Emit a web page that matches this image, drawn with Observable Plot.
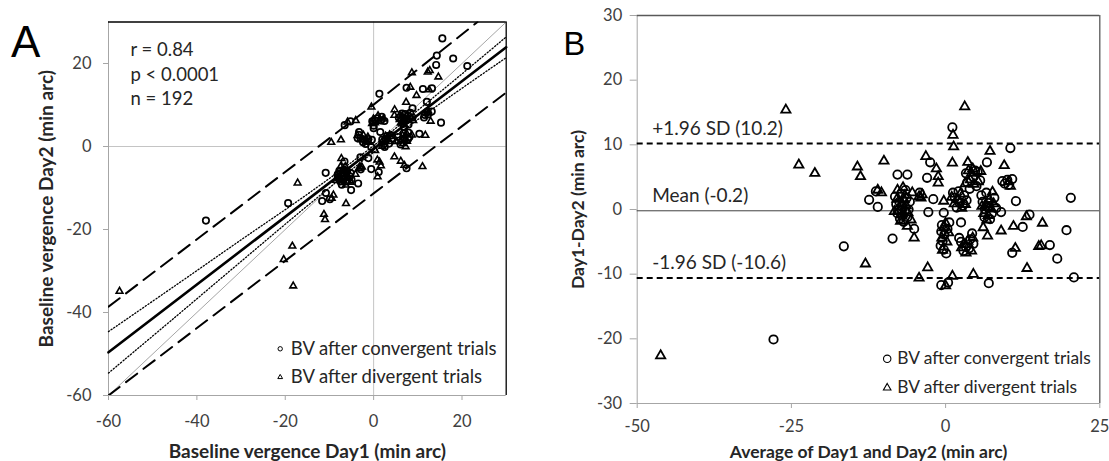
<!DOCTYPE html>
<html>
<head>
<meta charset="utf-8">
<script src="https://cdn.jsdelivr.net/npm/d3@7"></script>
<script src="https://cdn.jsdelivr.net/npm/@observablehq/plot@0.6"></script>
<style>
  body { margin: 0; background: #fff; }
  #fig { position: relative; width: 1109px; height: 461px; overflow: hidden; font-family: Lato, "Open Sans", sans-serif; }
  #fig > svg { position: absolute; top: 0; }
  g[aria-label="x-axis tick"], g[aria-label="y-axis tick"] { stroke: #a6a6a6; }
</style>
</head>
<body>
<div id="fig"></div>
<script>
// Baseline vergence (min arc): per-trial [average of Day1 & Day2, Day1 - Day2]
const convergentPairs = [
  [-27.9,-20.1],[-16.5,-5.7],[-12.4,1.5],[-11.0,0.4],[-11.3,2.8],
  [-7.8,5.4],[-6.2,5.4],[-2.5,7.3],[-3.0,4.9],[-4.2,2.6],[-2.0,1.6],[-2.8,-0.4],
  [-5.1,-3.0],[-8.6,-4.5],
  [1.1,12.7],[10.5,9.5],[6.7,7.3],[9.2,4.4],[10.0,4.6],[10.8,4.7],[10.2,3.8],
  [11.4,1.3],[20.3,1.8],[13.6,-0.8],[12.5,-2.7],[19.6,-3.2],[16.9,-5.5],[18.1,-7.6],
  [10.8,-6.7],[20.8,-10.5],[7.0,-11.4],[-0.7,-11.7],[0.4,-11.3],[2.5,-2.0],[9.0,-0.4],
  [-0.5,-4.9],[-0.3,-6.2],[-0.7,-3.4],[4.3,-3.7],[-0.3,-0.5],
  [-7.5,1.2],[-7.0,0.4],[-6.6,-0.3],[-7.8,-0.6],[-6.3,1.8],[-7.2,2.4],[-8.0,0.8],[-6.0,0.0],
  [-7.4,-1.4],[-6.8,-1.9],[-5.8,1.2],[-8.2,2.0],[-6.5,3.0],[-7.0,-1.0],[-7.7,0.0],[-6.2,-1.2],[-7.1,0.0],
  [6.0,1.2],[6.8,0.4],[7.5,-0.6],[6.3,-1.2],[7.9,1.8],[6.6,2.6],[7.2,-1.5],[8.2,0.2],[5.8,2.2],[7.0,1.0],[6.4,0.0],[9.6,4.0],
  [1.5,1.8],[2.3,1.0],[3.0,2.2],[1.8,0.3],[2.8,0.6],[3.4,1.4],[1.2,2.6],[2.1,2.8],
  [2.5,-5.0],[3.3,-5.8],[4.0,-4.6],[2.9,-6.4],[3.8,-6.0],[4.5,-5.3],[2.2,-4.4],
  [3.5,4.2],[4.5,5.0],[5.0,3.6],[3.9,3.2],[4.8,6.0],[3.3,5.6],[5.6,4.5],[5.2,5.8],
  [-0.6,-2.4],[0.3,-3.0],[-0.2,-3.9],[0.6,-2.0],[0.1,-6.8],[-0.8,-5.6]
];
const divergentPairs = [
  [-46.2,-22.6],[-25.9,15.4],[-23.8,6.9],[-21.2,5.6],[-14.3,6.6],[-13.8,5.1],[-10.0,7.5],
  [-3.2,8.2],[-1.5,6.3],[-1.2,5.1],[-1.2,4.1],[-11.0,3.0],[-10.4,2.6],[-7.8,3.0],[-4.0,1.8],
  [-0.3,1.3],[-6.2,-2.6],[-5.1,-4.4],[-13.0,-8.4],[-2.9,-9.0],[-4.3,-10.6],[0.0,-11.8],[1.1,-10.3],
  [4.5,-10.0],[3.1,15.9],[1.2,11.5],[1.3,9.7],[1.1,7.2],[7.2,9.0],[9.5,6.8],[3.6,7.3],[4.4,6.3],[5.7,5.9],
  [10.5,3.6],[13.1,-1.1],[15.7,-2.1],[11.0,-2.6],[6.1,-2.8],[9.0,-3.3],[6.8,-4.1],[11.3,-6.0],
  [15.1,-5.7],[15.5,-5.6],[13.2,-9.1],[-0.5,-6.3],[-5.4,2.6],[-4.3,2.0],[-3.8,2.3],
  [-7.2,0.9],[-6.7,1.5],[-7.6,-0.2],[-6.4,0.6],[-7.0,-0.7],[-6.9,3.4],[-7.9,1.6],[-6.1,-0.5],[-7.3,-1.8],[-6.6,2.2],[-5.6,-1.6],[-8.3,-0.3],
  [6.5,0.8],[7.1,1.6],[7.4,0.1],[6.2,-0.6],[7.8,0.9],[6.9,-0.9],[5.9,0.5],[7.6,2.7],[6.7,-1.6],[10.2,4.3],[7.0,0.3],
  [2.0,1.5],[2.6,0.2],[1.4,0.9],[3.2,0.8],[2.4,2.4],[1.0,1.9],
  [3.0,-5.4],[3.6,-4.9],[2.6,-5.9],[4.2,-6.4],[3.3,-6.7],[4.4,-4.4],
  [4.0,4.6],[4.6,3.9],[3.7,6.0],[5.3,4.3],[4.2,5.6],[3.2,4.0],
  [-0.3,-2.8],[0.5,-3.6],[0.2,-5.0],[-0.6,-4.4],[0.0,-2.1]
];

// Panel A reference lines, [Day1, Day2]
const identityLine = [[-60,-60],[30,30]];
const regressionLine = [[-60,-49.6],[30,23.9]];
const confidenceUpper = [[-60,-44.6],[-45,-33.6],[-30,-22.5],[-15,-11.5],[0,0.2],[15,13.1],[30,26.4]];
const confidenceLower = [[-60,-54.6],[-45,-41.2],[-30,-27.7],[-15,-14.3],[0,-1.4],[15,10.3],[30,21.4]];
const predictionUpper = [[-60,-38.6],[0,10.1],[23.5,30]];
const predictionLower = [[-60,-60],[0,-11.3],[30,13.0]];
const statLines = ["r = 0.84", "p < 0.0001", "n = 192"];

// Panel B limits of agreement
const meanDiff = -0.2;
const limits = [10.2, -10.6];
const limitLabels = ["+1.96 SD (10.2)", "Mean (-0.2)", "-1.96 SD (-10.6)"];
const limitValues = [10.2, -0.2, -10.6];

const ticksA = [-60, -40, -20, 0, 20];
const ticksBx = [-50, -25, 0, 25];
const ticksBy = [-30, -20, -10, 0, 10, 20, 30];
const legendLabels = ["BV after convergent trials", "BV after divergent trials"];

const fmt = d => String(d);
const toDays = pairs => pairs.map(([m, d]) => ({day1: m + d / 2, day2: m - d / 2}));
const toBA = pairs => pairs.map(([m, d]) => ({avg: m, diff: d}));
const X = d => d[0], Y = d => d[1];
const textColor = "#262626";
const tickColor = "#404040";

const panelA = Plot.plot({
  width: 540, height: 461,
  marginLeft: 108, marginRight: 34.3, marginTop: 21.5, marginBottom: 66,
  style: {fontFamily: "Lato, sans-serif", background: "transparent", overflow: "visible"},
  x: {domain: [-60, 30]},
  y: {domain: [-60, 30]},
  marks: [
    Plot.ruleX([0], {stroke: "#c4c4c4"}),
    Plot.ruleY([0], {stroke: "#c4c4c4"}),
    Plot.ruleX([-60], {stroke: "#a6a6a6"}),
    Plot.ruleY([-60], {stroke: "#a6a6a6"}),
    Plot.axisX({ticks: ticksA, tickFormat: fmt, tickSize: 5, tickPadding: 15, fontSize: 16.5, color: tickColor, label: null}),
    Plot.axisY({ticks: ticksA, tickFormat: fmt, tickSize: 5, tickPadding: 12, fontSize: 16.5, color: tickColor, label: null}),
    Plot.line(identityLine, {x: X, y: Y, stroke: "#a6a6a6", strokeWidth: 1}),
    Plot.dot(toDays(convergentPairs), {x: "day1", y: "day2", r: 3.2, fill: "none", stroke: "#000", strokeWidth: 1.7}),
    Plot.dot(toDays(divergentPairs), {x: "day1", y: "day2", symbol: "triangle2", r: 3.2, fill: "none", stroke: "#000", strokeWidth: 1.6}),
    Plot.line(regressionLine, {x: X, y: Y, stroke: "#000", strokeWidth: 2.6}),
    Plot.line(confidenceUpper, {x: X, y: Y, stroke: "#000", strokeWidth: 1.3, strokeDasharray: "1.2,2", curve: "catmull-rom"}),
    Plot.line(confidenceLower, {x: X, y: Y, stroke: "#000", strokeWidth: 1.3, strokeDasharray: "1.2,2", curve: "catmull-rom"}),
    Plot.line(predictionUpper, {x: X, y: Y, stroke: "#000", strokeWidth: 2, strokeDasharray: "14,8", clip: true}),
    Plot.line(predictionLower, {x: X, y: Y, stroke: "#000", strokeWidth: 2, strokeDasharray: "14,8", clip: true}),
    Plot.ruleX([30], {stroke: "#000", strokeWidth: 1.3}),
    Plot.ruleY([30], {stroke: "#000", strokeWidth: 1.3}),
    Plot.text([statLines.join("\n")], {text: d => d, frameAnchor: "top-left", dx: 22, dy: 51, textAnchor: "start", lineAnchor: "middle", lineHeight: 1.33, fontSize: 18.5, fill: textColor}),
    Plot.dot([0], {frameAnchor: "bottom-right", dx: -226, dy: -46.7, r: 2.2, fill: "none", stroke: "#000", strokeWidth: 1}),
    Plot.dot([0], {frameAnchor: "bottom-right", dx: -226, dy: -18.3, symbol: "triangle2", r: 2.3, fill: "none", stroke: "#000", strokeWidth: 1}),
    Plot.text([legendLabels[0]], {text: d => d, frameAnchor: "bottom-right", dx: -215.5, dy: -46.7, textAnchor: "start", lineAnchor: "middle", fontSize: 18.5, fill: textColor}),
    Plot.text([legendLabels[1]], {text: d => d, frameAnchor: "bottom-right", dx: -215.5, dy: -18.3, textAnchor: "start", lineAnchor: "middle", fontSize: 18.5, fill: textColor}),
    Plot.text(["Baseline vergence Day1 (min arc)"], {text: d => d, frameAnchor: "bottom", dy: 56.5, textAnchor: "middle", lineAnchor: "middle", fontSize: 19, fontWeight: "bold", fill: textColor}),
    Plot.text(["Baseline vergence Day2 (min arc)"], {text: d => d, frameAnchor: "left", dx: -61.7, rotate: -90, textAnchor: "middle", lineAnchor: "middle", fontSize: 19, fontWeight: "bold", fill: textColor})
  ]
});

const panelB = Plot.plot({
  width: 554, height: 461,
  marginLeft: 81.7, marginRight: 9.7, marginTop: 15, marginBottom: 58,
  style: {fontFamily: "Lato, sans-serif", background: "transparent", overflow: "visible"},
  x: {domain: [-50, 25]},
  y: {domain: [-30, 30]},
  marks: [
    Plot.ruleX([-50], {stroke: "#a6a6a6"}),
    Plot.ruleY([-30], {stroke: "#a6a6a6"}),
    Plot.axisX({ticks: ticksBx, tickFormat: fmt, tickSize: 5, tickPadding: 12, fontSize: 16.5, color: tickColor, label: null}),
    Plot.axisY({ticks: ticksBy, tickFormat: fmt, tickSize: 7, tickPadding: 8, fontSize: 16.5, color: tickColor, label: null}),
    Plot.ruleY([meanDiff], {stroke: "#404040", strokeWidth: 1}),
    Plot.ruleY(limits, {stroke: "#000", strokeWidth: 2, strokeDasharray: "6,4"}),
    Plot.dot(toBA(convergentPairs), {x: "avg", y: "diff", r: 4.2, fill: "none", stroke: "#000", strokeWidth: 1.8}),
    Plot.dot(toBA(divergentPairs), {x: "avg", y: "diff", symbol: "triangle2", r: 4.4, fill: "none", stroke: "#000", strokeWidth: 1.8}),
    Plot.ruleX([25], {stroke: "#595959", strokeWidth: 1.3}),
    Plot.ruleY([30], {stroke: "#595959", strokeWidth: 1.3}),
    Plot.text(limitLabels, {text: d => d, x: () => -50, y: (d, i) => limitValues[i], dx: 15, dy: -15, textAnchor: "start", lineAnchor: "middle", fontSize: 19, fill: textColor}),
    Plot.dot([0], {frameAnchor: "bottom-right", dx: -212.6, dy: -44.7, r: 3.7, fill: "none", stroke: "#000", strokeWidth: 1.1}),
    Plot.dot([0], {frameAnchor: "bottom-right", dx: -212.6, dy: -15.7, symbol: "triangle2", r: 3.6, fill: "none", stroke: "#000", strokeWidth: 1.1}),
    Plot.text([legendLabels[0]], {text: d => d, frameAnchor: "bottom-right", dx: -202.6, dy: -44.7, textAnchor: "start", lineAnchor: "middle", fontSize: 17.4, fill: textColor}),
    Plot.text([legendLabels[1]], {text: d => d, frameAnchor: "bottom-right", dx: -202.6, dy: -15.7, textAnchor: "start", lineAnchor: "middle", fontSize: 17.4, fill: textColor}),
    Plot.text(["Average of Day1 and Day2 (min arc)"], {text: d => d, frameAnchor: "bottom", dy: 48.7, textAnchor: "middle", lineAnchor: "middle", fontSize: 17.5, fontWeight: "bold", fill: textColor}),
    Plot.text(["Day1-Day2 (min arc)"], {text: d => d, frameAnchor: "left", dx: -58.7, rotate: -90, textAnchor: "middle", lineAnchor: "middle", fontSize: 17.5, fontWeight: "bold", fill: textColor})
  ]
});

const fig = document.getElementById("fig");
panelA.style.left = "0px";
panelB.style.left = "555px";
fig.appendChild(panelA);
fig.appendChild(panelB);

// Panel letters
const letters = d3.select(fig).append("svg")
  .attr("width", 1109).attr("height", 461)
  .style("left", "0px").style("pointer-events", "none")
  .attr("font-family", "'Liberation Sans', Arial, sans-serif");
letters.append("text").attr("x", 11).attr("y", 57).attr("font-size", 44).text("A");
letters.append("text").attr("x", 563.5).attr("y", 55).attr("font-size", 32.5).text("B");
</script>
</body>
</html>
